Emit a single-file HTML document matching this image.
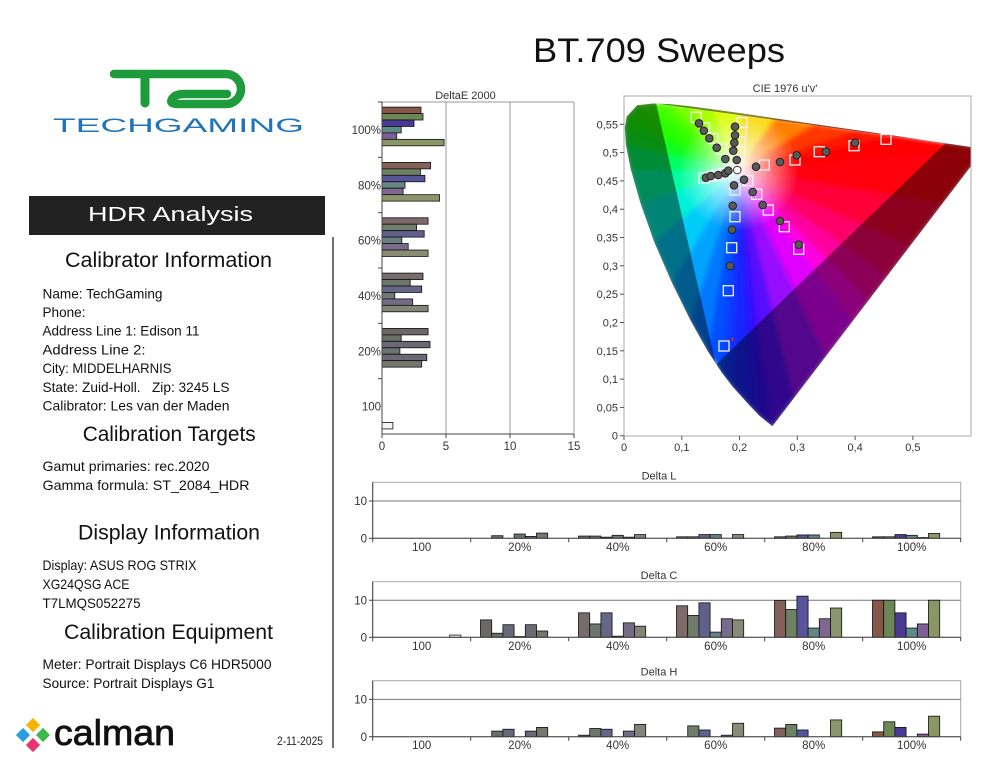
<!DOCTYPE html>
<html><head><meta charset="utf-8"><style>html,body{margin:0;padding:0;background:#fff;}svg{display:block;}</style></head>
<body>
<svg width="994" height="768" viewBox="0 0 994 768" xmlns="http://www.w3.org/2000/svg" font-family="'Liberation Sans', sans-serif">
<defs>
<filter id="blur" x="-5%" y="-5%" width="110%" height="110%"><feGaussianBlur stdDeviation="2.5"/></filter>
<clipPath id="plot"><rect x="624" y="96" width="347" height="340"/></clipPath>
<clipPath id="loc"><path d="M772.4,426.3 L759.6,415.9 L748.8,404.6 L732.4,386.4 L721.6,372.3 L707.2,350.2 L690.3,320 L671.8,282.4 L654.1,241.7 L640.3,202.6 L630.9,169.7 L626,145.2 L624.8,128.1 L626.7,116.5 L637.3,105.2 L652.9,103.5 L669.8,104.1 L689.1,106.1 L712.4,109.2 L741,113.3 L775.5,118.4 L815.5,124.2 L857.1,130.3 L895.1,135.8 L924.6,140.2 L960.8,145.5 L984.1,148.9 Z"/></clipPath>
<linearGradient id="g1" gradientUnits="userSpaceOnUse" x1="738.3" y1="170.5" x2="744.9" y2="230.1"><stop offset="0" stop-color="#fff"/><stop offset="1" stop-color="#3810ff"/></linearGradient>
<linearGradient id="g2" gradientUnits="userSpaceOnUse" x1="738.3" y1="170.5" x2="742.3" y2="230.4"><stop offset="0" stop-color="#fff"/><stop offset="1" stop-color="#2818ff"/></linearGradient>
<linearGradient id="g3" gradientUnits="userSpaceOnUse" x1="738.3" y1="170.5" x2="738.9" y2="230.5"><stop offset="0" stop-color="#fff"/><stop offset="1" stop-color="#1828ff"/></linearGradient>
<linearGradient id="g4" gradientUnits="userSpaceOnUse" x1="738.3" y1="170.5" x2="735.1" y2="230.4"><stop offset="0" stop-color="#fff"/><stop offset="1" stop-color="#0838ff"/></linearGradient>
<linearGradient id="g5" gradientUnits="userSpaceOnUse" x1="738.3" y1="170.5" x2="730.8" y2="230.0"><stop offset="0" stop-color="#fff"/><stop offset="1" stop-color="#0050ff"/></linearGradient>
<linearGradient id="g6" gradientUnits="userSpaceOnUse" x1="738.3" y1="170.5" x2="724.3" y2="228.8"><stop offset="0" stop-color="#fff"/><stop offset="1" stop-color="#0078ff"/></linearGradient>
<linearGradient id="g7" gradientUnits="userSpaceOnUse" x1="738.3" y1="170.5" x2="714.2" y2="225.5"><stop offset="0" stop-color="#fff"/><stop offset="1" stop-color="#00a4ff"/></linearGradient>
<linearGradient id="g8" gradientUnits="userSpaceOnUse" x1="738.3" y1="170.5" x2="700.2" y2="216.8"><stop offset="0" stop-color="#fff"/><stop offset="1" stop-color="#00ccf8"/></linearGradient>
<linearGradient id="g9" gradientUnits="userSpaceOnUse" x1="738.3" y1="170.5" x2="686.1" y2="200.1"><stop offset="0" stop-color="#fff"/><stop offset="1" stop-color="#00f0d8"/></linearGradient>
<linearGradient id="g10" gradientUnits="userSpaceOnUse" x1="738.3" y1="170.5" x2="679.0" y2="179.6"><stop offset="0" stop-color="#fff"/><stop offset="1" stop-color="#00ffa0"/></linearGradient>
<linearGradient id="g11" gradientUnits="userSpaceOnUse" x1="738.3" y1="170.5" x2="678.7" y2="163.4"><stop offset="0" stop-color="#fff"/><stop offset="1" stop-color="#00ff60"/></linearGradient>
<linearGradient id="g12" gradientUnits="userSpaceOnUse" x1="738.3" y1="170.5" x2="680.8" y2="153.3"><stop offset="0" stop-color="#fff"/><stop offset="1" stop-color="#08ff28"/></linearGradient>
<linearGradient id="g13" gradientUnits="userSpaceOnUse" x1="738.3" y1="170.5" x2="683.2" y2="146.9"><stop offset="0" stop-color="#fff"/><stop offset="1" stop-color="#18ff08"/></linearGradient>
<linearGradient id="g14" gradientUnits="userSpaceOnUse" x1="738.3" y1="170.5" x2="686.0" y2="141.2"><stop offset="0" stop-color="#fff"/><stop offset="1" stop-color="#28ff00"/></linearGradient>
<linearGradient id="g15" gradientUnits="userSpaceOnUse" x1="738.3" y1="170.5" x2="689.4" y2="135.8"><stop offset="0" stop-color="#fff"/><stop offset="1" stop-color="#38ff00"/></linearGradient>
<linearGradient id="g16" gradientUnits="userSpaceOnUse" x1="738.3" y1="170.5" x2="692.9" y2="131.2"><stop offset="0" stop-color="#fff"/><stop offset="1" stop-color="#50ff00"/></linearGradient>
<linearGradient id="g17" gradientUnits="userSpaceOnUse" x1="738.3" y1="170.5" x2="698.2" y2="125.9"><stop offset="0" stop-color="#fff"/><stop offset="1" stop-color="#78ff00"/></linearGradient>
<linearGradient id="g18" gradientUnits="userSpaceOnUse" x1="738.3" y1="170.5" x2="707.5" y2="119.0"><stop offset="0" stop-color="#fff"/><stop offset="1" stop-color="#a8ff00"/></linearGradient>
<linearGradient id="g19" gradientUnits="userSpaceOnUse" x1="738.3" y1="170.5" x2="726.8" y2="111.6"><stop offset="0" stop-color="#fff"/><stop offset="1" stop-color="#d8ff00"/></linearGradient>
<linearGradient id="g20" gradientUnits="userSpaceOnUse" x1="738.3" y1="170.5" x2="758.9" y2="114.2"><stop offset="0" stop-color="#fff"/><stop offset="1" stop-color="#f8d800"/></linearGradient>
<linearGradient id="g21" gradientUnits="userSpaceOnUse" x1="738.3" y1="170.5" x2="783.8" y2="131.4"><stop offset="0" stop-color="#fff"/><stop offset="1" stop-color="#ff8000"/></linearGradient>
<linearGradient id="g22" gradientUnits="userSpaceOnUse" x1="738.3" y1="170.5" x2="793.2" y2="146.3"><stop offset="0" stop-color="#fff"/><stop offset="1" stop-color="#ff3800"/></linearGradient>
<linearGradient id="g23" gradientUnits="userSpaceOnUse" x1="738.3" y1="170.5" x2="796.2" y2="154.8"><stop offset="0" stop-color="#fff"/><stop offset="1" stop-color="#ff1400"/></linearGradient>
<linearGradient id="g24" gradientUnits="userSpaceOnUse" x1="738.3" y1="170.5" x2="797.3" y2="159.3"><stop offset="0" stop-color="#fff"/><stop offset="1" stop-color="#ff0400"/></linearGradient>
<linearGradient id="g25" gradientUnits="userSpaceOnUse" x1="738.3" y1="170.5" x2="797.8" y2="162.5"><stop offset="0" stop-color="#fff"/><stop offset="1" stop-color="#ff0000"/></linearGradient>
<linearGradient id="g26" gradientUnits="userSpaceOnUse" x1="738.3" y1="170.5" x2="798.0" y2="164.6"><stop offset="0" stop-color="#fff"/><stop offset="1" stop-color="#ff0000"/></linearGradient>
<linearGradient id="g27" gradientUnits="userSpaceOnUse" x1="738.3" y1="170.5" x2="798.3" y2="172.1"><stop offset="0" stop-color="#fff"/><stop offset="1" stop-color="#ff0010"/></linearGradient>
<linearGradient id="g28" gradientUnits="userSpaceOnUse" x1="738.3" y1="170.5" x2="795.9" y2="187.3"><stop offset="0" stop-color="#fff"/><stop offset="1" stop-color="#ff0038"/></linearGradient>
<linearGradient id="g29" gradientUnits="userSpaceOnUse" x1="738.3" y1="170.5" x2="790.5" y2="200.1"><stop offset="0" stop-color="#fff"/><stop offset="1" stop-color="#ff0068"/></linearGradient>
<linearGradient id="g30" gradientUnits="userSpaceOnUse" x1="738.3" y1="170.5" x2="783.9" y2="209.4"><stop offset="0" stop-color="#fff"/><stop offset="1" stop-color="#ff00a0"/></linearGradient>
<linearGradient id="g31" gradientUnits="userSpaceOnUse" x1="738.3" y1="170.5" x2="777.6" y2="215.9"><stop offset="0" stop-color="#fff"/><stop offset="1" stop-color="#ff00e0"/></linearGradient>
<linearGradient id="g32" gradientUnits="userSpaceOnUse" x1="738.3" y1="170.5" x2="769.1" y2="222.0"><stop offset="0" stop-color="#fff"/><stop offset="1" stop-color="#e000ff"/></linearGradient>
<linearGradient id="g33" gradientUnits="userSpaceOnUse" x1="738.3" y1="170.5" x2="757.8" y2="227.3"><stop offset="0" stop-color="#fff"/><stop offset="1" stop-color="#9808ff"/></linearGradient>
<linearGradient id="g34" gradientUnits="userSpaceOnUse" x1="738.3" y1="170.5" x2="749.2" y2="229.5"><stop offset="0" stop-color="#fff"/><stop offset="1" stop-color="#5810ff"/></linearGradient>
</defs>

<rect width="994" height="768" fill="#fff"/>

<!-- Logo -->
<path d="M114,74 H226 A15,15 0 0 1 226,104 H178 Q169,104 172,99 Q175,94 184,94 H227" stroke="#1e9b3c" stroke-width="8.5" fill="none" stroke-linecap="round" stroke-linejoin="round"/>
<path d="M145,77 V103" stroke="#1e9b3c" stroke-width="9" fill="none" stroke-linecap="round"/>
<text x="53" y="132" font-size="19.5" fill="#1f74bb" textLength="251" lengthAdjust="spacingAndGlyphs">TECHGAMING</text>

<!-- HDR bar -->
<rect x="29" y="196" width="296" height="39" fill="#222"/>
<text x="88" y="221" font-size="20" fill="#fff" textLength="165" lengthAdjust="spacingAndGlyphs">HDR Analysis</text>

<line x1="333" y1="237" x2="333" y2="748" stroke="#444" stroke-width="1.5"/>

<!-- Left text -->
<g fill="#111">
<text x="65" y="267" font-size="21" textLength="207" lengthAdjust="spacingAndGlyphs">Calibrator Information</text>
<g font-size="14">
<text x="42.5" y="298.3" textLength="120" lengthAdjust="spacingAndGlyphs">Name: TechGaming</text>
<text x="42.5" y="317" textLength="43" lengthAdjust="spacingAndGlyphs">Phone:</text>
<text x="42.5" y="335.7" textLength="157" lengthAdjust="spacingAndGlyphs">Address Line 1: Edison 11</text>
<text x="42.5" y="354.4" textLength="103" lengthAdjust="spacingAndGlyphs">Address Line 2:</text>
<text x="42.5" y="373" textLength="129" lengthAdjust="spacingAndGlyphs">City: MIDDELHARNIS</text>
<text x="42.5" y="391.8" textLength="187" lengthAdjust="spacingAndGlyphs" xml:space="preserve">State: Zuid-Holl.   Zip: 3245 LS</text>
<text x="42.5" y="410.5" textLength="187" lengthAdjust="spacingAndGlyphs">Calibrator: Les van der Maden</text>
</g>
<text x="82.7" y="441" font-size="21" textLength="173" lengthAdjust="spacingAndGlyphs">Calibration Targets</text>
<g font-size="14">
<text x="42.5" y="471" textLength="167" lengthAdjust="spacingAndGlyphs">Gamut primaries: rec.2020</text>
<text x="42.5" y="490" textLength="207" lengthAdjust="spacingAndGlyphs">Gamma formula: ST_2084_HDR</text>
</g>
<text x="78" y="539.5" font-size="21" textLength="182" lengthAdjust="spacingAndGlyphs">Display Information</text>
<g font-size="14">
<text x="42.5" y="570" textLength="154" lengthAdjust="spacingAndGlyphs">Display: ASUS ROG STRIX</text>
<text x="42.5" y="589" textLength="87" lengthAdjust="spacingAndGlyphs">XG24QSG ACE</text>
<text x="42.5" y="608" textLength="98" lengthAdjust="spacingAndGlyphs">T7LMQS052275</text>
</g>
<text x="64" y="639" font-size="21" textLength="209" lengthAdjust="spacingAndGlyphs">Calibration Equipment</text>
<g font-size="14">
<text x="42.5" y="669" textLength="229" lengthAdjust="spacingAndGlyphs">Meter: Portrait Displays C6 HDR5000</text>
<text x="42.5" y="688" textLength="172" lengthAdjust="spacingAndGlyphs">Source: Portrait Displays G1</text>
</g>
</g>

<!-- calman logo -->
<g>
<rect x="28" y="720" width="10" height="10" transform="rotate(45 33 725)" fill="#f5b400"/>
<rect x="18" y="730" width="10" height="10" transform="rotate(45 23 735)" fill="#2a9fe0"/>
<rect x="38" y="730" width="10" height="10" transform="rotate(45 43 735)" fill="#3cb94a"/>
<rect x="28" y="740" width="10" height="10" transform="rotate(45 33 745)" fill="#e8336b"/>
</g>
<text x="54" y="745" font-size="36" fill="#111" stroke="#111" stroke-width="0.8" textLength="121" lengthAdjust="spacingAndGlyphs">calman</text>
<text x="277" y="745" font-size="11.5" fill="#222" textLength="46" lengthAdjust="spacingAndGlyphs">2-11-2025</text>

<!-- Title -->
<text x="533" y="62" font-size="34" fill="#111" textLength="252" lengthAdjust="spacingAndGlyphs">BT.709 Sweeps</text>

<!-- DeltaE 2000 -->
<text x="465.5" y="99" font-size="11" fill="#333" text-anchor="middle">DeltaE 2000</text>
<g stroke="#999" stroke-width="1">
<line x1="382" y1="102" x2="574" y2="102"/>
<line x1="446" y1="102" x2="446" y2="434"/>
<line x1="510" y1="102" x2="510" y2="434"/>
<line x1="574" y1="102" x2="574" y2="434"/>
</g>
<g stroke="#111" stroke-width="0.8">
<rect x="382" y="107.1" width="39" height="6.45" fill="#86564a"/>
<rect x="382" y="113.55" width="41" height="6.45" fill="#6c8656"/>
<rect x="382" y="120" width="32" height="6.45" fill="#4a3a96"/>
<rect x="382" y="126.45" width="19.2" height="6.45" fill="#5e8a8a"/>
<rect x="382" y="132.9" width="14.7" height="6.45" fill="#805e96"/>
<rect x="382" y="139.35" width="62.1" height="6.45" fill="#8a9664"/>
<rect x="382" y="162.43" width="48.6" height="6.45" fill="#84605a"/>
<rect x="382" y="168.88" width="38.4" height="6.45" fill="#6c8262"/>
<rect x="382" y="175.33" width="42.9" height="6.45" fill="#58549a"/>
<rect x="382" y="181.78" width="23" height="6.45" fill="#668686"/>
<rect x="382" y="188.23" width="21.1" height="6.45" fill="#7e6892"/>
<rect x="382" y="194.68" width="57.6" height="6.45" fill="#8c946c"/>
<rect x="382" y="217.77" width="46.1" height="6.45" fill="#7e6a68"/>
<rect x="382" y="224.22" width="34.6" height="6.45" fill="#6e7e6a"/>
<rect x="382" y="230.67" width="42.2" height="6.45" fill="#60608c"/>
<rect x="382" y="237.12" width="19.8" height="6.45" fill="#6a8080"/>
<rect x="382" y="243.57" width="26.2" height="6.45" fill="#786c8a"/>
<rect x="382" y="250.02" width="46.1" height="6.45" fill="#888c74"/>
<rect x="382" y="273.1" width="41" height="6.45" fill="#766c6c"/>
<rect x="382" y="279.55" width="28.2" height="6.45" fill="#6c766c"/>
<rect x="382" y="286" width="39.7" height="6.45" fill="#666686"/>
<rect x="382" y="292.45" width="12.8" height="6.45" fill="#6c7a7a"/>
<rect x="382" y="298.9" width="30.7" height="6.45" fill="#746c84"/>
<rect x="382" y="305.35" width="46.1" height="6.45" fill="#828678"/>
<rect x="382" y="328.43" width="46.1" height="6.45" fill="#6c6868"/>
<rect x="382" y="334.88" width="19.2" height="6.45" fill="#686e68"/>
<rect x="382" y="341.33" width="48" height="6.45" fill="#686876"/>
<rect x="382" y="347.78" width="17.9" height="6.45" fill="#6a7272"/>
<rect x="382" y="354.23" width="44.8" height="6.45" fill="#6c6874"/>
<rect x="382" y="360.68" width="39.7" height="6.45" fill="#767870"/>
<rect x="382" y="422.47" width="10.9" height="6.45" fill="#f4f4f4"/>
</g>
<g stroke="#444" stroke-width="1">
<line x1="382" y1="102" x2="382" y2="434"/>
<line x1="382" y1="434" x2="574" y2="434"/>
<line x1="378" y1="102" x2="382" y2="102"/>
<line x1="378" y1="157.33" x2="382" y2="157.33"/>
<line x1="378" y1="212.67" x2="382" y2="212.67"/>
<line x1="378" y1="268" x2="382" y2="268"/>
<line x1="378" y1="323.33" x2="382" y2="323.33"/>
<line x1="378" y1="378.67" x2="382" y2="378.67"/>
<line x1="382" y1="434" x2="382" y2="438"/>
<line x1="446" y1="434" x2="446" y2="438"/>
<line x1="510" y1="434" x2="510" y2="438"/>
<line x1="574" y1="434" x2="574" y2="438"/>
</g>
<g font-size="11.5" fill="#333" text-anchor="end">
<text x="381" y="134">100%</text>
<text x="381" y="189.3">80%</text>
<text x="381" y="244.6">60%</text>
<text x="381" y="300">40%</text>
<text x="381" y="355.3">20%</text>
<text x="381" y="410.6">100</text>
</g>
<g font-size="11.5" fill="#333" text-anchor="middle">
<text x="382" y="450">0</text>
<text x="446" y="450">5</text>
<text x="510" y="450">10</text>
<text x="574" y="450">15</text>
</g>

<!-- CIE 1976 -->
<text x="785" y="92" font-size="11" fill="#333" text-anchor="middle">CIE 1976 u'v'</text>
<g clip-path="url(#plot)">
<g clip-path="url(#loc)">
<g filter="url(#blur)">
<polygon points="738.3,170.5 772.4,426.3 759.6,415.9" fill="url(#g1)" stroke="url(#g1)" stroke-width="1"/>
<polygon points="738.3,170.5 759.6,415.9 748.8,404.6" fill="url(#g2)" stroke="url(#g2)" stroke-width="1"/>
<polygon points="738.3,170.5 748.8,404.6 732.4,386.4" fill="url(#g3)" stroke="url(#g3)" stroke-width="1"/>
<polygon points="738.3,170.5 732.4,386.4 721.6,372.3" fill="url(#g4)" stroke="url(#g4)" stroke-width="1"/>
<polygon points="738.3,170.5 721.6,372.3 707.2,350.2" fill="url(#g5)" stroke="url(#g5)" stroke-width="1"/>
<polygon points="738.3,170.5 707.2,350.2 690.3,320" fill="url(#g6)" stroke="url(#g6)" stroke-width="1"/>
<polygon points="738.3,170.5 690.3,320 671.8,282.4" fill="url(#g7)" stroke="url(#g7)" stroke-width="1"/>
<polygon points="738.3,170.5 671.8,282.4 654.1,241.7" fill="url(#g8)" stroke="url(#g8)" stroke-width="1"/>
<polygon points="738.3,170.5 654.1,241.7 640.3,202.6" fill="url(#g9)" stroke="url(#g9)" stroke-width="1"/>
<polygon points="738.3,170.5 640.3,202.6 630.9,169.7" fill="url(#g10)" stroke="url(#g10)" stroke-width="1"/>
<polygon points="738.3,170.5 630.9,169.7 626,145.2" fill="url(#g11)" stroke="url(#g11)" stroke-width="1"/>
<polygon points="738.3,170.5 626,145.2 624.8,128.1" fill="url(#g12)" stroke="url(#g12)" stroke-width="1"/>
<polygon points="738.3,170.5 624.8,128.1 626.7,116.5" fill="url(#g13)" stroke="url(#g13)" stroke-width="1"/>
<polygon points="738.3,170.5 626.7,116.5 637.3,105.2" fill="url(#g14)" stroke="url(#g14)" stroke-width="1"/>
<polygon points="738.3,170.5 637.3,105.2 652.9,103.5" fill="url(#g15)" stroke="url(#g15)" stroke-width="1"/>
<polygon points="738.3,170.5 652.9,103.5 669.8,104.1" fill="url(#g16)" stroke="url(#g16)" stroke-width="1"/>
<polygon points="738.3,170.5 669.8,104.1 689.1,106.1" fill="url(#g17)" stroke="url(#g17)" stroke-width="1"/>
<polygon points="738.3,170.5 689.1,106.1 712.4,109.2" fill="url(#g18)" stroke="url(#g18)" stroke-width="1"/>
<polygon points="738.3,170.5 712.4,109.2 741,113.3" fill="url(#g19)" stroke="url(#g19)" stroke-width="1"/>
<polygon points="738.3,170.5 741,113.3 775.5,118.4" fill="url(#g20)" stroke="url(#g20)" stroke-width="1"/>
<polygon points="738.3,170.5 775.5,118.4 815.5,124.2" fill="url(#g21)" stroke="url(#g21)" stroke-width="1"/>
<polygon points="738.3,170.5 815.5,124.2 857.1,130.3" fill="url(#g22)" stroke="url(#g22)" stroke-width="1"/>
<polygon points="738.3,170.5 857.1,130.3 895.1,135.8" fill="url(#g23)" stroke="url(#g23)" stroke-width="1"/>
<polygon points="738.3,170.5 895.1,135.8 924.6,140.2" fill="url(#g24)" stroke="url(#g24)" stroke-width="1"/>
<polygon points="738.3,170.5 924.6,140.2 960.8,145.5" fill="url(#g25)" stroke="url(#g25)" stroke-width="1"/>
<polygon points="738.3,170.5 960.8,145.5 984.1,148.9" fill="url(#g26)" stroke="url(#g26)" stroke-width="1"/>
<polygon points="738.3,170.5 984.1,148.9 941.8,204.4" fill="url(#g27)" stroke="url(#g27)" stroke-width="1"/>
<polygon points="738.3,170.5 941.8,204.4 910,246" fill="url(#g28)" stroke="url(#g28)" stroke-width="1"/>
<polygon points="738.3,170.5 910,246 886.7,276.5" fill="url(#g29)" stroke="url(#g29)" stroke-width="1"/>
<polygon points="738.3,170.5 886.7,276.5 867.7,301.5" fill="url(#g30)" stroke="url(#g30)" stroke-width="1"/>
<polygon points="738.3,170.5 867.7,301.5 852.9,320.9" fill="url(#g31)" stroke="url(#g31)" stroke-width="1"/>
<polygon points="738.3,170.5 852.9,320.9 825.3,357" fill="url(#g32)" stroke="url(#g32)" stroke-width="1"/>
<polygon points="738.3,170.5 825.3,357 793.6,398.6" fill="url(#g33)" stroke="url(#g33)" stroke-width="1"/>
<polygon points="738.3,170.5 793.6,398.6 772.4,426.3" fill="url(#g34)" stroke="url(#g34)" stroke-width="1"/>
</g>
<path fill-rule="evenodd" fill="#000" opacity="0.45" d="M600,90 H1000 V440 H600 Z M656.1,103.5 L945.5,143.3 L716,364.5 Z"/>
</g>
<!-- target squares -->
<g fill="none" stroke="#f2f2f2" stroke-width="1.3">
<rect x="691.2" y="112.2" width="10" height="10"/>
<rect x="699.6" y="122.9" width="10" height="10"/>
<rect x="708" y="133.5" width="10" height="10"/>
<rect x="716.5" y="144.2" width="10" height="10"/>
<rect x="724.9" y="154.8" width="10" height="10"/>
<rect x="736.8" y="117.6" width="10" height="10"/>
<rect x="736.1" y="127.2" width="10" height="10"/>
<rect x="735.4" y="136.8" width="10" height="10"/>
<rect x="734.7" y="146.3" width="10" height="10"/>
<rect x="734" y="156" width="10" height="10"/>
<rect x="699" y="173" width="10" height="10"/>
<rect x="706" y="171.5" width="10" height="10"/>
<rect x="712" y="170" width="10" height="10"/>
<rect x="719" y="168.5" width="10" height="10"/>
<rect x="726" y="167" width="10" height="10"/>
<rect x="759.3" y="160" width="10" height="10"/>
<rect x="790" y="155" width="10" height="10"/>
<rect x="814.3" y="146.7" width="10" height="10"/>
<rect x="849" y="140.7" width="10" height="10"/>
<rect x="881" y="134.3" width="10" height="10"/>
<rect x="742.7" y="175.7" width="10" height="10"/>
<rect x="751.7" y="189.3" width="10" height="10"/>
<rect x="763.3" y="205" width="10" height="10"/>
<rect x="779.3" y="221.7" width="10" height="10"/>
<rect x="793.7" y="244.3" width="10" height="10"/>
<rect x="730" y="185" width="10" height="10"/>
<rect x="730" y="211.7" width="10" height="10"/>
<rect x="726.7" y="242.7" width="10" height="10"/>
<rect x="723.3" y="285.7" width="10" height="10"/>
<rect x="719" y="341" width="10" height="10"/>
</g>
<!-- measured circles -->
<g fill="#5a5a5a" stroke="#222" stroke-width="1">
<circle cx="699" cy="123.3" r="3.8"/>
<circle cx="703.7" cy="130.7" r="3.8"/>
<circle cx="709.3" cy="138.3" r="3.8"/>
<circle cx="716.7" cy="147.7" r="3.8"/>
<circle cx="725.3" cy="159" r="3.8"/>
<circle cx="735" cy="126.7" r="3.8"/>
<circle cx="735" cy="135.3" r="3.8"/>
<circle cx="734.3" cy="142.7" r="3.8"/>
<circle cx="733.3" cy="150.7" r="3.8"/>
<circle cx="736.7" cy="160" r="3.8"/>
<circle cx="706" cy="177.7" r="3.8"/>
<circle cx="710.7" cy="176" r="3.8"/>
<circle cx="718.3" cy="175" r="3.8"/>
<circle cx="725.3" cy="173.3" r="3.8"/>
<circle cx="728.3" cy="170.7" r="3.8"/>
<circle cx="756" cy="166.7" r="3.8"/>
<circle cx="780" cy="162" r="3.8"/>
<circle cx="796.7" cy="155.3" r="3.8"/>
<circle cx="826" cy="151.7" r="3.8"/>
<circle cx="855" cy="142.7" r="3.8"/>
<circle cx="744" cy="179.7" r="3.8"/>
<circle cx="752.7" cy="192" r="3.8"/>
<circle cx="762.7" cy="205" r="3.8"/>
<circle cx="780" cy="221" r="3.8"/>
<circle cx="798.7" cy="244.7" r="3.8"/>
<circle cx="734" cy="185.3" r="3.8"/>
<circle cx="732.7" cy="205.7" r="3.8"/>
<circle cx="732" cy="229.7" r="3.8"/>
<circle cx="730" cy="266" r="3.8"/>
</g>
<circle cx="732.7" cy="339.3" r="1.6" fill="#a03050"/>
<circle cx="737.3" cy="170" r="3.8" fill="#fff" stroke="#333" stroke-width="1"/>
</g>
<rect x="624" y="96" width="347" height="340" fill="none" stroke="#aaa" stroke-width="1"/>
<g stroke="#555" stroke-width="1">
<line x1="620" y1="435.7" x2="624" y2="435.7"/>
<line x1="620" y1="407.4" x2="624" y2="407.4"/>
<line x1="620" y1="379.1" x2="624" y2="379.1"/>
<line x1="620" y1="350.8" x2="624" y2="350.8"/>
<line x1="620" y1="322.5" x2="624" y2="322.5"/>
<line x1="620" y1="294.2" x2="624" y2="294.2"/>
<line x1="620" y1="265.8" x2="624" y2="265.8"/>
<line x1="620" y1="237.5" x2="624" y2="237.5"/>
<line x1="620" y1="209.2" x2="624" y2="209.2"/>
<line x1="620" y1="180.9" x2="624" y2="180.9"/>
<line x1="620" y1="152.6" x2="624" y2="152.6"/>
<line x1="620" y1="124.3" x2="624" y2="124.3"/>
<line x1="624" y1="436" x2="624" y2="440"/>
<line x1="681.8" y1="436" x2="681.8" y2="440"/>
<line x1="739.5" y1="436" x2="739.5" y2="440"/>
<line x1="797.3" y1="436" x2="797.3" y2="440"/>
<line x1="855.1" y1="436" x2="855.1" y2="440"/>
<line x1="912.9" y1="436" x2="912.9" y2="440"/>
</g>
<g font-size="11" fill="#333" text-anchor="end">
<text x="618" y="439.7">0</text>
<text x="618" y="411.4">0,05</text>
<text x="618" y="383.1">0,1</text>
<text x="618" y="354.8">0,15</text>
<text x="618" y="326.5">0,2</text>
<text x="618" y="298.2">0,25</text>
<text x="618" y="269.8">0,3</text>
<text x="618" y="241.5">0,35</text>
<text x="618" y="213.2">0,4</text>
<text x="618" y="184.9">0,45</text>
<text x="618" y="156.6">0,5</text>
<text x="618" y="128.3">0,55</text>
</g>
<g font-size="11" fill="#333" text-anchor="middle">
<text x="624" y="451">0</text>
<text x="681.8" y="451">0,1</text>
<text x="739.5" y="451">0,2</text>
<text x="797.3" y="451">0,3</text>
<text x="855.1" y="451">0,4</text>
<text x="912.9" y="451">0,5</text>
</g>

<!-- Delta L -->
<text x="659" y="479.5" font-size="11" fill="#333" text-anchor="middle">Delta L</text>
<rect x="372.7" y="482.3" width="588" height="56" fill="none" stroke="#aaa"/>
<line x1="372.7" y1="501" x2="960.7" y2="501" stroke="#777"/>
<g stroke="#111" stroke-width="0.8">
<rect x="491.7" y="535.69" width="11.2" height="2.61" fill="#686e68"/>
<rect x="514.1" y="534.01" width="11.2" height="4.29" fill="#6a7272"/>
<rect x="525.3" y="536.43" width="11.2" height="1.87" fill="#6c6874"/>
<rect x="536.5" y="533.07" width="11.2" height="5.23" fill="#767870"/>
<rect x="578.5" y="536.06" width="11.2" height="2.24" fill="#766c6c"/>
<rect x="589.7" y="536.06" width="11.2" height="2.24" fill="#6c766c"/>
<rect x="600.9" y="537.18" width="11.2" height="1.12" fill="#666686"/>
<rect x="612.1" y="535.31" width="11.2" height="2.99" fill="#6c7a7a"/>
<rect x="623.3" y="537.18" width="11.2" height="1.12" fill="#746c84"/>
<rect x="634.5" y="534.57" width="11.2" height="3.73" fill="#828678"/>
<rect x="676.5" y="536.81" width="11.2" height="1.49" fill="#7e6a68"/>
<rect x="687.7" y="536.81" width="11.2" height="1.49" fill="#6e7e6a"/>
<rect x="698.9" y="534.57" width="11.2" height="3.73" fill="#60608c"/>
<rect x="710.1" y="534.57" width="11.2" height="3.73" fill="#6a8080"/>
<rect x="732.5" y="534.57" width="11.2" height="3.73" fill="#888c74"/>
<rect x="774.5" y="536.81" width="11.2" height="1.49" fill="#84605a"/>
<rect x="785.7" y="536.06" width="11.2" height="2.24" fill="#6c8262"/>
<rect x="796.9" y="534.94" width="11.2" height="3.36" fill="#58549a"/>
<rect x="808.1" y="534.94" width="11.2" height="3.36" fill="#668686"/>
<rect x="830.5" y="532.33" width="11.2" height="5.97" fill="#8c946c"/>
<rect x="872.5" y="536.81" width="11.2" height="1.49" fill="#86564a"/>
<rect x="883.7" y="536.81" width="11.2" height="1.49" fill="#6c8656"/>
<rect x="894.9" y="534.57" width="11.2" height="3.73" fill="#4a3a96"/>
<rect x="906.1" y="535.31" width="11.2" height="2.99" fill="#5e8a8a"/>
<rect x="917.3" y="537.55" width="11.2" height="0.75" fill="#805e96"/>
<rect x="928.5" y="533.45" width="11.2" height="4.85" fill="#8a9664"/>
</g>

<!-- Delta C -->
<text x="659" y="579" font-size="11" fill="#333" text-anchor="middle">Delta C</text>
<rect x="372.7" y="581.7" width="588" height="55.6" fill="none" stroke="#aaa"/>
<line x1="372.7" y1="600.23" x2="960.7" y2="600.23" stroke="#777"/>
<g stroke="#111" stroke-width="0.8">
<rect x="449.7" y="635.08" width="11.2" height="2.22" fill="#f4f4f4"/>
<rect x="480.5" y="619.88" width="11.2" height="17.42" fill="#6c6868"/>
<rect x="491.7" y="633.22" width="11.2" height="4.08" fill="#686e68"/>
<rect x="502.9" y="624.7" width="11.2" height="12.6" fill="#686876"/>
<rect x="514.1" y="636.56" width="11.2" height="0.74" fill="#6a7272"/>
<rect x="525.3" y="624.7" width="11.2" height="12.6" fill="#6c6874"/>
<rect x="536.5" y="631" width="11.2" height="6.3" fill="#767870"/>
<rect x="578.5" y="612.83" width="11.2" height="24.47" fill="#766c6c"/>
<rect x="589.7" y="623.95" width="11.2" height="13.35" fill="#6c766c"/>
<rect x="600.9" y="612.83" width="11.2" height="24.47" fill="#666686"/>
<rect x="612.1" y="636.19" width="11.2" height="1.11" fill="#6c7a7a"/>
<rect x="623.3" y="622.84" width="11.2" height="14.46" fill="#746c84"/>
<rect x="634.5" y="626.18" width="11.2" height="11.12" fill="#828678"/>
<rect x="676.5" y="605.79" width="11.2" height="31.51" fill="#7e6a68"/>
<rect x="687.7" y="615.43" width="11.2" height="21.87" fill="#6e7e6a"/>
<rect x="698.9" y="602.82" width="11.2" height="34.48" fill="#60608c"/>
<rect x="710.1" y="632.11" width="11.2" height="5.19" fill="#6a8080"/>
<rect x="721.3" y="618.76" width="11.2" height="18.54" fill="#786c8a"/>
<rect x="732.5" y="619.88" width="11.2" height="17.42" fill="#888c74"/>
<rect x="774.5" y="600.6" width="11.2" height="36.7" fill="#84605a"/>
<rect x="785.7" y="609.5" width="11.2" height="27.8" fill="#6c8262"/>
<rect x="796.9" y="596.15" width="11.2" height="41.15" fill="#58549a"/>
<rect x="808.1" y="628.03" width="11.2" height="9.27" fill="#668686"/>
<rect x="819.3" y="618.76" width="11.2" height="18.54" fill="#7e6892"/>
<rect x="830.5" y="608.01" width="11.2" height="29.29" fill="#8c946c"/>
<rect x="872.5" y="600.23" width="11.2" height="37.07" fill="#86564a"/>
<rect x="883.7" y="600.23" width="11.2" height="37.07" fill="#6c8656"/>
<rect x="894.9" y="612.83" width="11.2" height="24.47" fill="#4a3a96"/>
<rect x="906.1" y="628.03" width="11.2" height="9.27" fill="#5e8a8a"/>
<rect x="917.3" y="623.95" width="11.2" height="13.35" fill="#805e96"/>
<rect x="928.5" y="600.23" width="11.2" height="37.07" fill="#8a9664"/>
</g>

<!-- Delta H -->
<text x="659" y="675.5" font-size="11" fill="#333" text-anchor="middle">Delta H</text>
<rect x="372.7" y="680.7" width="588" height="56" fill="none" stroke="#aaa"/>
<line x1="372.7" y1="699.37" x2="960.7" y2="699.37" stroke="#777"/>
<g stroke="#111" stroke-width="0.8">
<rect x="491.7" y="731.1" width="11.2" height="5.6" fill="#686e68"/>
<rect x="502.9" y="729.23" width="11.2" height="7.47" fill="#686876"/>
<rect x="525.3" y="731.1" width="11.2" height="5.6" fill="#6c6874"/>
<rect x="536.5" y="727.37" width="11.2" height="9.33" fill="#767870"/>
<rect x="578.5" y="735.21" width="11.2" height="1.49" fill="#766c6c"/>
<rect x="589.7" y="728.49" width="11.2" height="8.21" fill="#6c766c"/>
<rect x="600.9" y="729.23" width="11.2" height="7.47" fill="#666686"/>
<rect x="623.3" y="731.1" width="11.2" height="5.6" fill="#746c84"/>
<rect x="634.5" y="724.38" width="11.2" height="12.32" fill="#828678"/>
<rect x="687.7" y="725.87" width="11.2" height="10.83" fill="#6e7e6a"/>
<rect x="698.9" y="729.98" width="11.2" height="6.72" fill="#60608c"/>
<rect x="721.3" y="735.21" width="11.2" height="1.49" fill="#786c8a"/>
<rect x="732.5" y="723.26" width="11.2" height="13.44" fill="#888c74"/>
<rect x="774.5" y="728.11" width="11.2" height="8.59" fill="#84605a"/>
<rect x="785.7" y="724.38" width="11.2" height="12.32" fill="#6c8262"/>
<rect x="796.9" y="729.98" width="11.2" height="6.72" fill="#58549a"/>
<rect x="830.5" y="719.9" width="11.2" height="16.8" fill="#8c946c"/>
<rect x="872.5" y="731.85" width="11.2" height="4.85" fill="#86564a"/>
<rect x="883.7" y="721.77" width="11.2" height="14.93" fill="#6c8656"/>
<rect x="894.9" y="727.37" width="11.2" height="9.33" fill="#4a3a96"/>
<rect x="917.3" y="734.09" width="11.2" height="2.61" fill="#805e96"/>
<rect x="928.5" y="716.17" width="11.2" height="20.53" fill="#8a9664"/>
</g>

<!-- Delta axes -->
<g stroke="#444" stroke-width="1">
<line x1="372.7" y1="482.3" x2="372.7" y2="538.3"/>
<line x1="372.7" y1="538.3" x2="960.7" y2="538.3"/>
<line x1="369" y1="501" x2="372.7" y2="501"/>
<line x1="369" y1="538.3" x2="372.7" y2="538.3"/>
<line x1="372.7" y1="581.7" x2="372.7" y2="637.3"/>
<line x1="372.7" y1="637.3" x2="960.7" y2="637.3"/>
<line x1="369" y1="600.23" x2="372.7" y2="600.23"/>
<line x1="369" y1="637.3" x2="372.7" y2="637.3"/>
<line x1="372.7" y1="680.7" x2="372.7" y2="736.7"/>
<line x1="372.7" y1="736.7" x2="960.7" y2="736.7"/>
<line x1="369" y1="699.37" x2="372.7" y2="699.37"/>
<line x1="369" y1="736.7" x2="372.7" y2="736.7"/>
<path d="M372.7,538.3v4 M470.7,538.3v4 M568.7,538.3v4 M666.7,538.3v4 M764.7,538.3v4 M862.7,538.3v4 M960.7,538.3v4 M372.7,637.3v4 M470.7,637.3v4 M568.7,637.3v4 M666.7,637.3v4 M764.7,637.3v4 M862.7,637.3v4 M960.7,637.3v4 M372.7,736.7v4 M470.7,736.7v4 M568.7,736.7v4 M666.7,736.7v4 M764.7,736.7v4 M862.7,736.7v4 M960.7,736.7v4" fill="none"/>
</g>
<g font-size="11.5" fill="#333" text-anchor="end">
<text x="367" y="505">10</text>
<text x="367" y="542.5">0</text>
<text x="367" y="604.4">10</text>
<text x="367" y="641.5">0</text>
<text x="367" y="703.5">10</text>
<text x="367" y="740.9">0</text>
</g>
<g font-size="11.5" fill="#333" text-anchor="middle">
<text x="421.7" y="551">100</text><text x="519.7" y="551">20%</text><text x="617.7" y="551">40%</text><text x="715.7" y="551">60%</text><text x="813.7" y="551">80%</text><text x="911.7" y="551">100%</text>
<text x="421.7" y="650">100</text><text x="519.7" y="650">20%</text><text x="617.7" y="650">40%</text><text x="715.7" y="650">60%</text><text x="813.7" y="650">80%</text><text x="911.7" y="650">100%</text>
<text x="421.7" y="749">100</text><text x="519.7" y="749">20%</text><text x="617.7" y="749">40%</text><text x="715.7" y="749">60%</text><text x="813.7" y="749">80%</text><text x="911.7" y="749">100%</text>
</g>
</svg>
</body></html>
